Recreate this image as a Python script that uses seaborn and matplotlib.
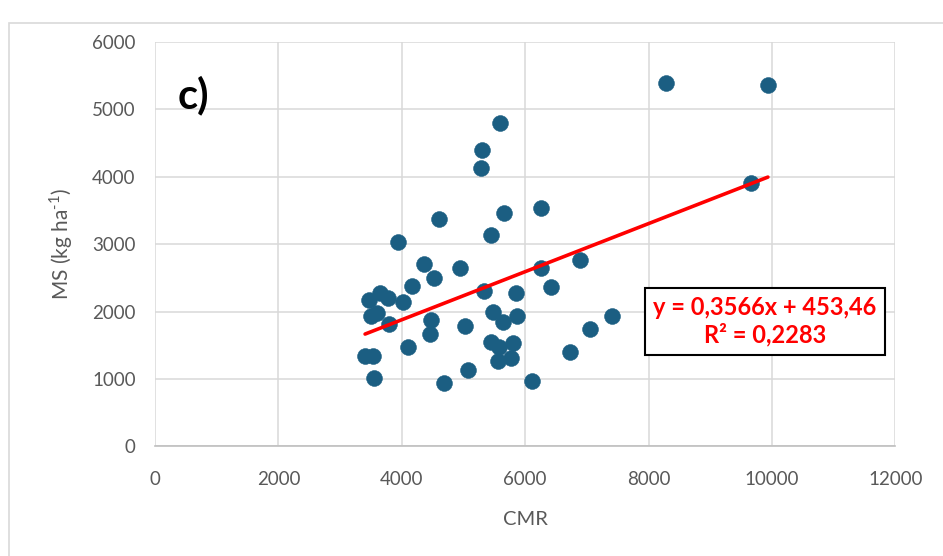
import numpy as np
import pandas as pd
import matplotlib
matplotlib.use('Agg')
import matplotlib.pyplot as plt
import seaborn as sns
from matplotlib.patches import Rectangle

# Data
cmr = [3405, 3540, 3551, 3475, 3497, 3594, 3648, 3783, 3799, 3935,
       4016, 4097, 4172, 4362, 4459, 4475, 4524, 4600, 4691, 4946,
       5027, 5070, 5290, 5305, 5340, 5448, 5448, 5486, 5567, 5583,
       5594, 5638, 5662, 5773, 5810, 5854, 5865, 6108, 6254, 6257,
       6416, 6735, 6892, 7054, 7400, 8281, 9659, 9935]
ms = [1341, 1341, 1010, 2172, 1940, 1975, 2280, 2207, 1811, 3037,
      2138, 1479, 2380, 2702, 1668, 1875, 2503, 3369, 936, 2642,
      1780, 1134, 4135, 4398, 2306, 3132, 1545, 2000, 1272, 1470,
      4803, 1841, 3467, 1307, 1539, 2272, 1940, 972, 3533, 2642,
      2370, 1405, 2770, 1740, 1940, 5396, 3903, 5362]

# Trendline reported on the chart
SLOPE = 0.3566
INTERCEPT = 453.46
EQ_TEXT = 'y = 0,3566x + 453,46\nR² = 0,2283'

x_ticks = [0, 2000, 4000, 6000, 8000, 10000, 12000]
y_ticks = [0, 1000, 2000, 3000, 4000, 5000, 6000]

sns.set_style('white')
plt.rcParams['font.family'] = ['Lato', 'DejaVu Sans']
plt.rcParams['mathtext.fontset'] = 'custom'
plt.rcParams['mathtext.rm'] = 'Lato'

GRAY_TXT = '#595959'
GRID = '#d9d9d9'
DOT = '#1b5e82'

df = pd.DataFrame({'CMR': cmr, 'MS': ms})
xs = np.array([min(cmr), max(cmr)])
trend = pd.DataFrame({'CMR': xs, 'MS': SLOPE * xs + INTERCEPT})

fig = plt.figure(figsize=(9.43, 5.56), dpi=100)
ax = fig.add_axes([0.1644, 0.197, 0.785, 0.7274])

# outer chart frame (cut off on right/bottom like the reference)
fig.patches.append(Rectangle((9 / 943, -0.1), 1.2, 1 - 23 / 556 + 0.1,
                             transform=fig.transFigure, fill=False,
                             edgecolor=GRID, lw=1.2))

sns.scatterplot(data=df, x='CMR', y='MS', ax=ax, color=DOT, s=130,
                edgecolor=DOT, linewidth=0.4, zorder=3)
sns.lineplot(data=trend, x='CMR', y='MS', ax=ax, color='#ff0000', lw=2.6, zorder=4)

ax.set_xlim(0, 12000)
ax.set_ylim(0, 6000)
ax.set_xticks(x_ticks)
ax.set_yticks(y_ticks)
ax.grid(True, color=GRID, lw=1.1)
ax.set_axisbelow(True)
for side in ['top', 'right', 'left']:
    ax.spines[side].set_visible(False)
ax.spines['bottom'].set_color('#bfbfbf')
ax.spines['bottom'].set_linewidth(1.2)
ax.tick_params(axis='both', length=0, labelsize=13.5, labelcolor=GRAY_TXT)
ax.tick_params(axis='x', pad=18)
ax.tick_params(axis='y', pad=14)

ax.set_xlabel('CMR', fontsize=14.5, color=GRAY_TXT, labelpad=16)
ax.set_ylabel(r'MS (kg ha$^{\text{-1}}$)', fontsize=15, color=GRAY_TXT, labelpad=12)

ax.text(0.03, 0.869, 'c)', transform=ax.transAxes, fontsize=30,
        fontweight='bold', color='black', va='center', ha='left')

ax.text(0.824, 0.31, EQ_TEXT, transform=ax.transAxes, fontsize=17,
        fontweight='bold', color='#ff0000', ha='center', va='center',
        linespacing=1.2,
        bbox=dict(boxstyle='square,pad=0.35', facecolor='white',
                  edgecolor='black', lw=1.5))

fig.savefig('out.png', dpi=100)
